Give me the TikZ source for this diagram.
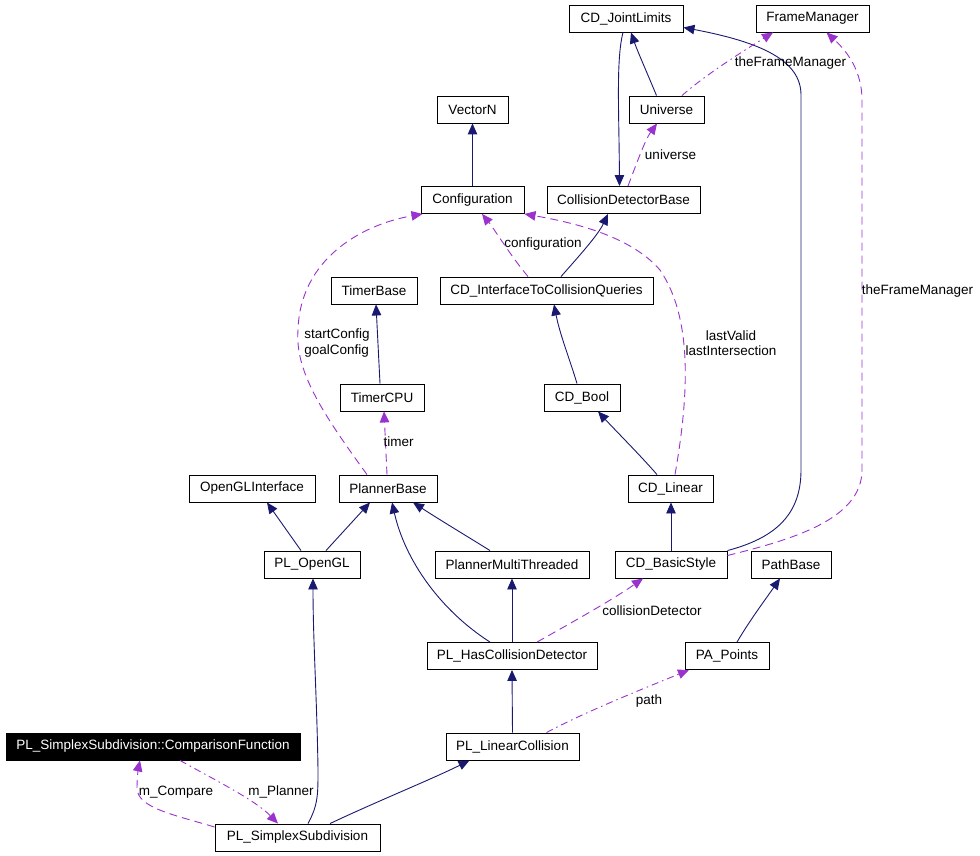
\documentclass[tikz,border=0pt]{standalone}
\usepackage{fontspec}
\setmainfont{Liberation Sans}
\usetikzlibrary{arrows.meta}

\definecolor{edgeblue}{HTML}{191970}
\definecolor{edgepurple}{HTML}{9A32CD}

\tikzset{
	cls/.style={draw, line width=0.9pt, minimum height=27pt, inner sep=0pt,
		font=\fontsize{13.5}{15.5}\selectfont},
	inherit/.style={draw=edgeblue, line width=0.9pt, -{Triangle[length=11pt,width=9.5pt]}},
	member/.style={draw=edgepurple, line width=0.9pt, dash pattern=on 8pt off 5pt,
		-{Triangle[length=11pt,width=9.5pt]}},
	memberdot/.style={member, dash pattern=on 7pt off 4pt on 1.5pt off 4pt},
	lbl/.style={inner sep=0pt, align=center, font=\fontsize{13.5}{15.5}\selectfont}
}

\def\cls#1#2#3#4{\node[cls, minimum width=#3] (#1) at (#2) {#4};}

\begin{document}
\begin{tikzpicture}[x=1pt,y=-1pt]
	\useasboundingbox (0,0) rectangle (980,856);

	\cls{jointlimits}{626,18.5}{114}{CD\_JointLimits}
	\cls{framemanager}{812.5,18.5}{113}{FrameManager}
	\cls{universe}{666.5,109.5}{75}{Universe}
	\cls{vectorn}{472.5,109.5}{71}{VectorN}
	\cls{configuration}{472.5,200}{103}{Configuration}
	\cls{detectorbase}{623.5,200}{153}{CollisionDetectorBase}
	\cls{timerbase}{374,290.5}{86}{TimerBase}
	\cls{queries}{546.5,290.5}{213}{CD\_InterfaceToCollisionQueries}
	\cls{timercpu}{382,397.5}{84}{TimerCPU}
	\cls{cdbool}{582,397.5}{76}{CD\_Bool}
	\cls{openglif}{252,488.5}{126}{OpenGLInterface}
	\cls{plannerbase}{388,488.5}{98}{PlannerBase}
	\cls{cdlinear}{670.5,488.5}{85}{CD\_Linear}
	\cls{plopengl}{312,564.5}{96}{PL\_OpenGL}
	\cls{multithreaded}{512,564.5}{154}{PlannerMultiThreaded}
	\cls{basicstyle}{671,564.5}{112}{CD\_BasicStyle}
	\cls{pathbase}{791,564.5}{80}{PathBase}
	\cls{hascollision}{512,656}{170}{PL\_HasCollisionDetector}
	\cls{papoints}{727,656}{84}{PA\_Points}
	\cls{linearcollision}{512.5,746.5}{133}{PL\_LinearCollision}
	\node[cls, minimum width=294, fill=black, text=white] (compare) at (153,746.5)
		{PL\_SimplexSubdivision::ComparisonFunction};
	\cls{simplex}{297.5,837.5}{165}{PL\_SimplexSubdivision}

	% inheritance
	\draw[inherit] (configuration.north) -- (vectorn.south);
	\draw[inherit] ([xshift=-3]jointlimits.south) .. controls (616,60) and (619,110) .. ([xshift=-4]detectorbase.north);
	\draw[inherit] ([xshift=-10]universe.north) .. controls (648,75) and (637,50) .. ([xshift=5]jointlimits.south);
	\draw[inherit] ([xshift=14.5]queries.north) .. controls (580,255) and (598,235) .. ([xshift=-15.5]detectorbase.south);
	\draw[inherit] ([xshift=-2]timercpu.north) -- ([xshift=2]timerbase.south);
	\draw[inherit] ([xshift=-5]cdbool.north) .. controls (570,360) and (560,335) .. ([xshift=7.5]queries.south);
	\draw[inherit] ([xshift=-13.5]cdlinear.north) .. controls (640,455) and (615,430) .. ([xshift=16]cdbool.south);
	\draw[inherit] ([xshift=-11]plopengl.north) -- ([xshift=15]openglif.south);
	\draw[inherit] ([xshift=14]plopengl.north) -- ([xshift=-18]plannerbase.south);
	\draw[inherit] ([xshift=-22]multithreaded.north) .. controls (465,535) and (440,520) .. ([xshift=25]plannerbase.south);
	\draw[inherit] ([xshift=-22]hascollision.north) .. controls (440,610) and (405,560) .. ([xshift=4]plannerbase.south);
	\draw[inherit] (hascollision.north) -- (multithreaded.south);
	\draw[inherit] (basicstyle.north) -- ([xshift=0.5]cdlinear.south);
	\draw[inherit] (basicstyle.north east) .. controls (775,538) and (801,515) .. (801,470)
		-- (801,95) .. controls (801,60) and (760,42) .. ([yshift=-9]jointlimits.east);
	\draw[inherit] ([xshift=10]papoints.north) .. controls (750,620) and (765,600) .. ([xshift=-11]pathbase.south);
	\draw[inherit] (linearcollision.north) -- (hascollision.south);
	\draw[inherit] ([xshift=10.5]simplex.north) .. controls (318,805) and (318,795) .. (318,770)
		.. controls (317,700) and (313,640) .. ([xshift=1]plopengl.south);
	\draw[inherit] ([xshift=32.5]simplex.north) .. controls (380,800) and (430,780) .. ([xshift=-43]linearcollision.south);

	% usage
	\draw[memberdot] ([xshift=15.5]universe.north) .. controls (705,75) and (745,50) .. ([xshift=-39.5]framemanager.south);
	\draw[member] ([xshift=4.5]detectorbase.north) .. controls (636,165) and (645,140) .. ([xshift=-9.5]universe.south);
	\draw[member] ([xshift=-18.5]queries.north) .. controls (510,255) and (495,230) .. ([xshift=9.5]configuration.south);
	\draw[member] ([xshift=-1]plannerbase.north) -- ([xshift=2]timercpu.south);
	\draw[member] ([xshift=-21]plannerbase.north) .. controls (320,410) and (295,370) .. (298,330)
		.. controls (300,260) and (360,225) .. ([xshift=-50]configuration.south);
	\draw[member] ([xshift=4.5]cdlinear.north) .. controls (688,400) and (694,320) .. (660,270)
		.. controls (630,235) and (570,222) .. ([xshift=52]configuration.south);
	\draw[member] ([xshift=25]hascollision.north) .. controls (580,618) and (615,598) .. ([xshift=-28]basicstyle.south);
	\draw[member] ([yshift=9]basicstyle.east) .. controls (790,540) and (862,520) .. (862,470)
		-- (862,100) .. controls (862,65) and (840,45) .. ([xshift=14]framemanager.south);
	\draw[memberdot] ([xshift=34]linearcollision.north) .. controls (585,712) and (640,690) .. ([xshift=-38]papoints.south);
	\draw[member] ([yshift=10.5]simplex.west) .. controls (175,815) and (137,808) .. (137,788)
		.. controls (137,775) and (139,765) .. ([xshift=-13]compare.south);
	\draw[memberdot] ([xshift=27]compare.south) .. controls (215,780) and (255,800) .. ([xshift=-19.5]simplex.north);

	\node[lbl] (lblframeA) at (790.5,63) {theFrameManager};
	\node[lbl] (lbluniverse) at (670.5,155) {universe};
	\node[lbl] (lblconfig) at (543,244) {configuration};
	\node[lbl, align=left] (lblstartgoal) at (337,343) {startConfig\\goalConfig};
	\node[lbl] (lbllast) at (731,343) {lastValid\\lastIntersection};
	\node[lbl] (lbltimer) at (398.5,442) {timer};
	\node[lbl] (lblframeB) at (917.5,291) {theFrameManager};
	\node[lbl] (lbldetector) at (652,610.5) {collisionDetector};
	\node[lbl] (lblpath) at (649,701) {path};
	\node[lbl] (lblcompare) at (176,792) {m\_Compare};
	\node[lbl] (lblplanner) at (281,792) {m\_Planner};
\end{tikzpicture}
\end{document}
